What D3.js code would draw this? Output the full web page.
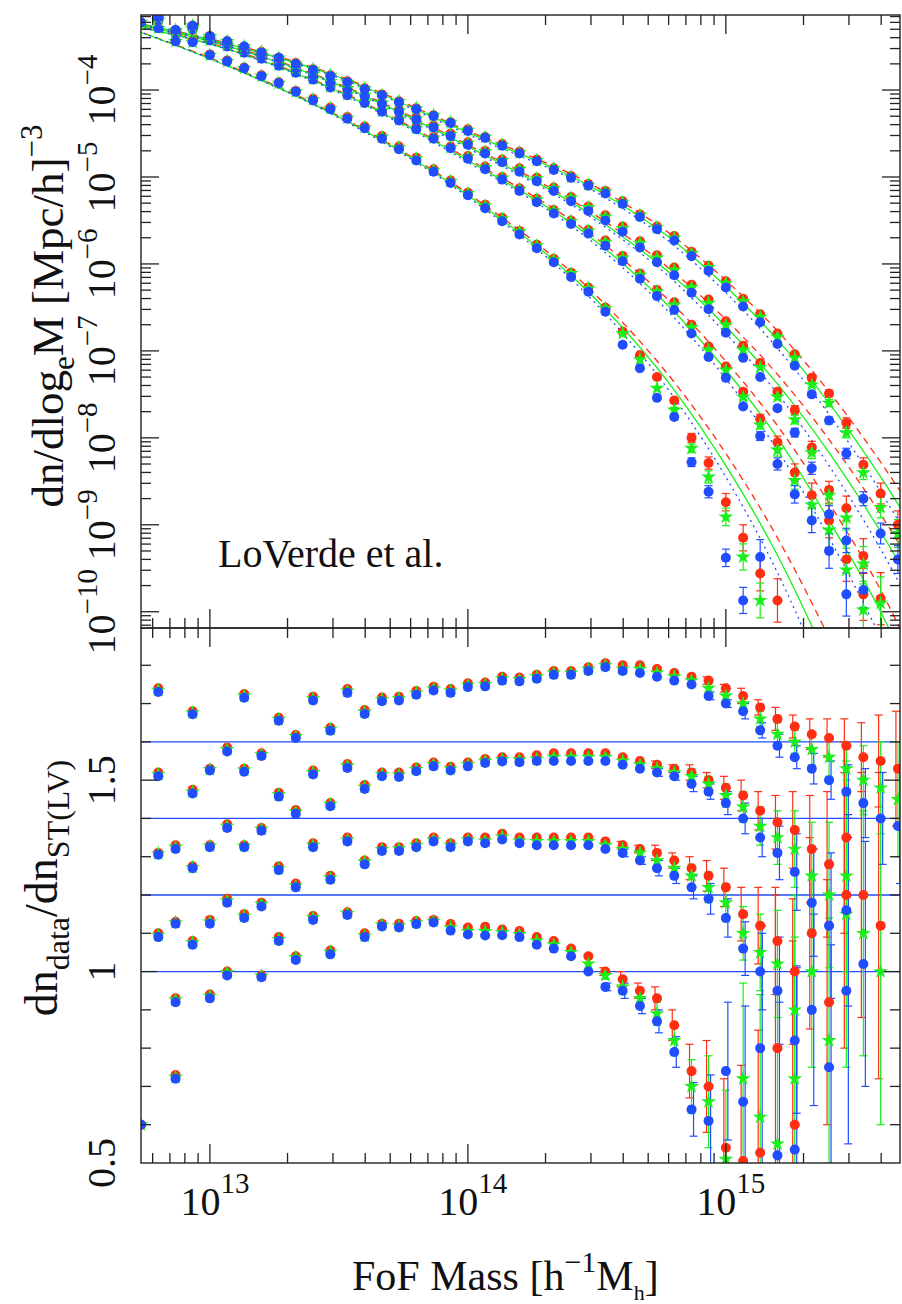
<!DOCTYPE html>
<html>
<head>
<meta charset="utf-8">
<script src="https://d3js.org/d3.v7.min.js"></script>
<style>
  body { margin: 0; background: #fff; }
  svg text { font-family: "Liberation Serif", "DejaVu Serif", serif; fill: #111; }
</style>
</head>
<body>
<div id="chart"></div>
<script>
// mass bins, log10(M)
var massLog = [12.733,12.800,12.867,12.933,13.000,13.067,13.133,13.200,13.267,13.333,
  13.400,13.467,13.533,13.600,13.667,13.733,13.800,13.867,13.933,14.000,
  14.067,14.133,14.200,14.267,14.333,14.400,14.467,14.533,14.600,14.667,
  14.733,14.800,14.867,14.933,15.000,15.067,15.133,15.200,15.267,15.333,
  15.400,15.467,15.533,15.600,15.667];

// top panel: log10 dn/dlnM, sets 1..4, one array per colour
var topGreen1 = [-3.22,-3.29,-3.44,-3.45,-3.60,-3.67,-3.75,-3.84,-3.92,-4.02,-4.11,-4.21,-4.32,-4.43,-4.54,-4.66,-4.79,-4.92,-5.05,-5.19,-5.33,-5.48,-5.63,-5.79,-5.95,-6.11,-6.28,-6.51,-6.80,-7.10,-7.43,-7.68,-8.12,-8.45,-8.91,-9.37,-9.87,null,null,null,null,null,null,null,null];
var topRed1   = [-3.22,-3.28,-3.43,-3.44,-3.59,-3.66,-3.74,-3.83,-3.91,-4.01,-4.10,-4.20,-4.31,-4.42,-4.53,-4.65,-4.78,-4.91,-5.04,-5.18,-5.32,-5.47,-5.62,-5.78,-5.94,-6.10,-6.27,-6.50,-6.78,-7.05,-7.30,-7.57,-8.00,-8.29,-8.74,-9.15,-9.56,-9.87,null,null,null,null,null,null,null];
var topBlue1  = [-3.22,-3.29,-3.44,-3.45,-3.60,-3.67,-3.75,-3.84,-3.92,-4.02,-4.12,-4.22,-4.33,-4.44,-4.56,-4.68,-4.81,-4.94,-5.07,-5.21,-5.36,-5.51,-5.66,-5.82,-5.98,-6.15,-6.32,-6.55,-6.93,-7.20,-7.54,-7.76,-8.28,-8.62,-9.38,-9.87,-9.37,null,null,null,null,null,null,null,null];

var topGreen2 = [null,-3.20,-3.34,-3.30,-3.43,-3.49,-3.56,-3.63,-3.71,-3.79,-3.87,-3.96,-4.05,-4.14,-4.24,-4.34,-4.44,-4.55,-4.66,-4.77,-4.89,-5.01,-5.14,-5.26,-5.39,-5.51,-5.62,-5.75,-5.93,-6.13,-6.32,-6.47,-6.73,-6.99,-7.22,-7.53,-7.85,-8.14,-8.49,-8.77,-9.06,-9.52,-9.98,null,null];
var topRed2   = [null,-3.20,-3.34,-3.30,-3.42,-3.49,-3.56,-3.63,-3.71,-3.79,-3.87,-3.95,-4.04,-4.13,-4.23,-4.33,-4.43,-4.54,-4.65,-4.76,-4.88,-5.00,-5.13,-5.25,-5.38,-5.50,-5.61,-5.73,-5.91,-6.11,-6.30,-6.44,-6.70,-6.95,-7.18,-7.47,-7.78,-8.05,-8.40,-8.66,-8.95,-9.40,-9.80,null,null];
var topBlue2  = [null,-3.20,-3.35,-3.30,-3.43,-3.50,-3.57,-3.64,-3.72,-3.80,-3.88,-3.97,-4.06,-4.15,-4.25,-4.35,-4.45,-4.56,-4.67,-4.79,-4.91,-5.03,-5.16,-5.29,-5.42,-5.54,-5.65,-5.79,-5.97,-6.17,-6.37,-6.53,-6.80,-7.07,-7.31,-7.64,-7.98,-8.30,-8.65,-8.95,-9.30,-9.80,null,null,null];

var topGreen3 = [null,-3.17,-3.32,-3.28,-3.40,-3.47,-3.53,-3.60,-3.67,-3.75,-3.82,-3.90,-3.98,-4.06,-4.15,-4.24,-4.33,-4.42,-4.51,-4.61,-4.71,-4.81,-4.91,-5.02,-5.13,-5.24,-5.35,-5.46,-5.59,-5.76,-5.93,-6.07,-6.27,-6.45,-6.70,-6.99,-7.19,-7.53,-7.79,-8.17,-8.66,-8.92,-9.45,-9.90,null];
var topRed3   = [null,-3.17,-3.32,-3.27,-3.40,-3.46,-3.53,-3.60,-3.67,-3.74,-3.82,-3.90,-3.98,-4.06,-4.14,-4.23,-4.32,-4.41,-4.50,-4.60,-4.70,-4.80,-4.90,-5.01,-5.12,-5.23,-5.34,-5.44,-5.57,-5.74,-5.90,-6.04,-6.24,-6.41,-6.66,-6.94,-7.14,-7.47,-7.68,-8.11,-8.60,-8.81,-9.36,-9.85,null];
var topBlue3  = [null,-3.17,-3.32,-3.28,-3.41,-3.47,-3.54,-3.61,-3.68,-3.75,-3.83,-3.91,-3.99,-4.07,-4.16,-4.25,-4.34,-4.43,-4.53,-4.63,-4.73,-4.83,-4.94,-5.05,-5.16,-5.28,-5.39,-5.50,-5.63,-5.81,-5.98,-6.13,-6.33,-6.52,-6.79,-7.08,-7.30,-7.66,-7.94,-8.35,-8.88,-9.18,-9.75,null,null];

var topGreen4 = [null,-3.16,-3.31,-3.26,-3.38,-3.44,-3.50,-3.56,-3.63,-3.70,-3.76,-3.83,-3.91,-3.98,-4.06,-4.13,-4.21,-4.29,-4.37,-4.46,-4.54,-4.63,-4.72,-4.81,-4.90,-5.00,-5.09,-5.17,-5.29,-5.44,-5.58,-5.70,-5.88,-6.04,-6.22,-6.43,-6.61,-6.84,-7.08,-7.39,-7.60,-7.94,-8.40,-8.80,-9.10];
var topRed4   = [null,-3.16,-3.31,-3.26,-3.38,-3.44,-3.50,-3.56,-3.63,-3.69,-3.76,-3.83,-3.90,-3.98,-4.05,-4.13,-4.21,-4.29,-4.37,-4.45,-4.54,-4.62,-4.71,-4.80,-4.90,-4.99,-5.08,-5.16,-5.28,-5.43,-5.57,-5.68,-5.86,-6.02,-6.20,-6.40,-6.58,-6.80,-7.04,-7.31,-7.49,-7.83,-8.31,-8.64,-9.00];
var topBlue4  = [null,-3.16,-3.31,-3.26,-3.38,-3.44,-3.50,-3.57,-3.63,-3.70,-3.77,-3.84,-3.91,-3.99,-4.06,-4.14,-4.22,-4.30,-4.38,-4.47,-4.55,-4.64,-4.73,-4.82,-4.92,-5.01,-5.10,-5.19,-5.31,-5.46,-5.60,-5.73,-5.91,-6.08,-6.27,-6.49,-6.67,-6.92,-7.17,-7.50,-7.80,-8.18,-8.70,-9.10,-9.40];

// error half-widths (dex) of the top-panel tail points, from bin errFrom on
var errFrom = 27;
var topErr1 = [0,0,0,0,0.03,0.05,0.07,0.10,0.15,0.20,0.25,0.30,0,0,0,0,0,0];
var topErr2 = [0,0,0,0,0,0,0,0,0.03,0.05,0.07,0.10,0.14,0.20,0.25,0.30,0,0];
var topErr3 = [0,0,0,0,0,0,0,0,0,0,0.03,0.05,0.07,0.10,0.14,0.20,0.30,0];
var topErr4 = [0,0,0,0,0,0,0,0,0,0,0,0,0.03,0.04,0.06,0.08,0.12,0.16];

// fitted ST(LV) curves in the top panel, log10 dn/dlnM
var fitMass   = [12.70, 13.00, 13.50, 14.00, 14.50, 14.80, 15.00, 15.20, 15.40, 15.60, 15.80];
var fitGreen1 = [-3.30, -3.64, -4.31, -5.21, -6.42, -7.45, -8.32, -9.35, -10.6, -12.0, -13.5];
var fitRed1   = [-3.30, -3.63, -4.30, -5.19, -6.37, -7.36, -8.18, -9.15, -10.3, -11.6, -13.0];
var fitBlue1  = [-3.30, -3.64, -4.32, -5.23, -6.47, -7.54, -8.45, -9.55, -10.9, -12.4, -14.0];
var fitGreen2 = [-3.26, -3.47, -4.02, -4.81, -5.75, -6.55, -7.22, -8.00, -8.95, -10.0, -11.3];
var fitRed2   = [-3.26, -3.46, -4.01, -4.79, -5.71, -6.48, -7.12, -7.86, -8.75, -9.75, -11.0];
var fitBlue2  = [-3.26, -3.47, -4.03, -4.83, -5.79, -6.62, -7.32, -8.14, -9.15, -10.3, -11.6];
var fitGreen3 = [-3.24, -3.44, -3.94, -4.65, -5.48, -6.15, -6.72, -7.38, -8.17, -9.08, -10.1];
var fitRed3   = [-3.24, -3.43, -3.93, -4.63, -5.45, -6.10, -6.64, -7.27, -8.02, -8.88, -9.85];
var fitBlue3  = [-3.24, -3.44, -3.95, -4.67, -5.51, -6.20, -6.80, -7.49, -8.32, -9.28, -10.4];
var fitGreen4 = [-3.22, -3.42, -3.85, -4.49, -5.15, -5.74, -6.26, -6.87, -7.60, -8.45, -9.40];
var fitRed4   = [-3.22, -3.41, -3.84, -4.47, -5.12, -5.69, -6.19, -6.77, -7.47, -8.28, -9.18];
var fitBlue4  = [-3.22, -3.42, -3.86, -4.51, -5.18, -5.79, -6.33, -6.97, -7.73, -8.62, -9.62];

// bottom panel: dn_data / dn_ST(LV), each set shifted by its offset
var ratioOffset = [0, 0.2, 0.4, 0.6];
var ratioGreen1 = [0.60,1.095,0.724,1.076,0.936,0.997,1.145,0.989,1.084,1.037,1.141,1.051,1.152,1.093,1.122,1.119,1.128,1.132,1.115,1.105,1.105,1.102,1.097,1.08,1.07,1.05,1.02,0.99,0.96,0.93,0.89,0.82,0.70,0.66,0.51,0.72,0.62,0.55,0.72,null,null,null,null,null,null];
var ratioRed1   = [0.60,1.10,0.73,1.08,0.94,1.00,1.15,0.99,1.09,1.04,1.145,1.055,1.155,1.10,1.125,1.125,1.132,1.135,1.124,1.115,1.117,1.11,1.106,1.09,1.08,1.06,1.04,1.00,0.98,0.95,0.93,0.86,0.74,0.70,0.54,0.505,0.527,0.80,0.60,null,null,null,null,null,null];
var ratioBlue1  = [0.60,1.09,0.72,1.07,0.93,0.99,1.14,0.985,1.08,1.03,1.135,1.045,1.148,1.09,1.118,1.115,1.124,1.128,1.107,1.097,1.094,1.095,1.09,1.07,1.06,1.04,1.00,0.96,0.95,0.91,0.87,0.79,0.64,0.61,0.74,0.66,0.80,0.52,0.535,null,null,null,null,null,null];

var ratioGreen2 = [null,1.108,0.726,1.072,0.93,0.985,1.128,0.976,1.069,1.024,1.13,1.045,1.144,1.087,1.119,1.121,1.13,1.144,1.13,1.144,1.141,1.152,1.141,1.14,1.14,1.14,1.14,1.13,1.12,1.11,1.09,1.07,1.05,1.02,0.98,0.90,0.85,0.82,0.70,0.80,0.62,0.95,null,null,null];
var ratioRed2   = [null,1.11,0.73,1.075,0.935,0.99,1.13,0.98,1.075,1.03,1.135,1.05,1.15,1.09,1.125,1.125,1.135,1.15,1.135,1.15,1.15,1.16,1.15,1.15,1.15,1.15,1.15,1.14,1.13,1.12,1.11,1.09,1.07,1.05,1.02,0.95,0.92,0.88,0.80,0.90,0.72,1.00,null,null,null];
var ratioBlue2  = [null,1.105,0.72,1.07,0.925,0.98,1.125,0.97,1.065,1.02,1.125,1.04,1.14,1.08,1.115,1.115,1.125,1.14,1.125,1.14,1.135,1.145,1.135,1.13,1.13,1.13,1.13,1.12,1.11,1.09,1.07,1.05,1.02,0.99,0.94,0.86,0.80,0.75,0.62,0.70,0.55,0.75,null,null,null];

var ratioGreen3 = [null,1.115,0.728,1.069,0.928,0.98,1.127,0.972,1.062,1.017,1.12,1.037,1.137,1.082,1.115,1.114,1.128,1.141,1.13,1.141,1.15,1.154,1.153,1.155,1.16,1.16,1.16,1.16,1.15,1.14,1.13,1.12,1.11,1.09,1.06,1.03,0.98,0.95,0.92,0.85,0.80,0.85,0.70,0.60,null];
var ratioRed3   = [null,1.12,0.73,1.075,0.93,0.985,1.13,0.975,1.067,1.022,1.125,1.04,1.142,1.087,1.12,1.12,1.133,1.146,1.135,1.146,1.155,1.16,1.16,1.165,1.17,1.17,1.17,1.17,1.16,1.15,1.14,1.13,1.12,1.10,1.08,1.06,1.02,0.99,0.97,0.92,0.88,0.95,0.80,0.72,null];
var ratioBlue3  = [null,1.11,0.725,1.065,0.925,0.975,1.122,0.968,1.057,1.012,1.115,1.032,1.132,1.077,1.11,1.108,1.123,1.136,1.125,1.136,1.145,1.149,1.147,1.15,1.15,1.15,1.15,1.15,1.14,1.13,1.12,1.11,1.09,1.07,1.04,1.00,0.95,0.91,0.86,0.78,0.72,0.76,0.62,null,null];

var ratioGreen4 = [null,1.135,0.725,1.076,0.928,0.98,1.12,0.967,1.059,1.014,1.113,1.033,1.133,1.078,1.111,1.113,1.128,1.139,1.133,1.148,1.15,1.165,1.163,1.17,1.18,1.18,1.19,1.20,1.19,1.19,1.18,1.17,1.16,1.14,1.12,1.10,1.06,1.02,1.00,0.98,0.96,0.93,0.90,0.88,0.85];
var ratioRed4   = [null,1.14,0.73,1.08,0.93,0.985,1.125,0.97,1.063,1.018,1.118,1.037,1.138,1.083,1.116,1.118,1.133,1.144,1.138,1.153,1.155,1.17,1.168,1.175,1.185,1.185,1.195,1.205,1.20,1.20,1.19,1.18,1.17,1.16,1.14,1.12,1.09,1.06,1.04,1.02,1.01,0.99,0.96,0.95,0.93];
var ratioBlue4  = [null,1.13,0.72,1.072,0.925,0.975,1.115,0.963,1.055,1.01,1.108,1.029,1.128,1.073,1.106,1.108,1.123,1.134,1.128,1.143,1.145,1.16,1.158,1.165,1.175,1.175,1.185,1.195,1.185,1.18,1.17,1.16,1.15,1.12,1.10,1.08,1.03,0.99,0.96,0.93,0.90,0.87,0.84,0.80,0.78];

// error half-widths of the ratio points, from bin errFrom on
var ratioErr1 = [0.01,0.02,0.02,0.03,0.04,0.07,0.12,0.18,0.25,0.32,0.40,0.48,0,0,0,0,0,0];
var ratioErr2 = [0,0.01,0.01,0.02,0.02,0.03,0.04,0.05,0.07,0.10,0.14,0.19,0.25,0.32,0.40,0,0,0];
var ratioErr3 = [0,0,0,0.01,0.01,0.02,0.02,0.03,0.04,0.05,0.07,0.10,0.14,0.19,0.25,0.32,0.40,0];
var ratioErr4 = [0,0,0,0,0,0,0.01,0.01,0.02,0.02,0.03,0.03,0.04,0.05,0.07,0.09,0.12,0.15];

var colRed = "#ff2d12", colGreen = "#19f019", colBlue = "#1f4dff";

var W = 902, H = 1304;
var L = 141, R = 900, T = 15, MID = 628, B = 1163;

var svg = d3.select("#chart").append("svg")
  .attr("width", W).attr("height", H);

var x = d3.scaleLog().domain([Math.pow(10, 12.733), Math.pow(10, 15.675)]).range([L, R]);
var yTop = d3.scaleLog().domain([Math.pow(10, -10.187), Math.pow(10, -3.137)]).range([MID, T]);
var yBot = d3.scaleLinear().domain([0.5, 1.9]).range([B, 627]);

var defs = svg.append("defs");
defs.append("clipPath").attr("id", "clipTop").append("rect")
  .attr("x", L).attr("y", T).attr("width", R - L).attr("height", MID - T);
defs.append("clipPath").attr("id", "clipBot").append("rect")
  .attr("x", L).attr("y", MID).attr("width", R - L).attr("height", B - MID);

var gTop = svg.append("g").attr("clip-path", "url(#clipTop)");
var gBot = svg.append("g").attr("clip-path", "url(#clipBot)");

var starPath = d3.symbol().type(d3.symbolStar).size(68)();
var cols = [colRed, colGreen, colBlue];

function errorBar(g, col, cx, y1, y2) {
  var eb = g.append("g").attr("stroke", col).attr("stroke-width", 1.2);
  eb.append("line").attr("x1", cx).attr("x2", cx).attr("y1", y1).attr("y2", y2);
  eb.append("line").attr("x1", cx - 4).attr("x2", cx + 4).attr("y1", y1).attr("y2", y1);
  eb.append("line").attr("x1", cx - 4).attr("x2", cx + 4).attr("y1", y2).attr("y2", y2);
}

function drawPoints(g, vals, yf, kind) {
  var pts = [];
  vals.forEach(function (v, k) { if (v !== null) pts.push({ m: massLog[k], v: v }); });
  if (kind === "star") {
    g.selectAll(null).data(pts).enter().append("path")
      .attr("d", starPath)
      .attr("transform", function (d) { return "translate(" + x(Math.pow(10, d.m)) + "," + yf(d.v) + ")"; })
      .attr("fill", colGreen);
  } else {
    g.selectAll(null).data(pts).enter().append("circle")
      .attr("cx", function (d) { return x(Math.pow(10, d.m)); })
      .attr("cy", function (d) { return yf(d.v); })
      .attr("r", 5)
      .attr("fill", kind);
  }
}

// ---------- top panel ----------
var topSets = [
  { fits: [fitRed1, fitGreen1, fitBlue1], pts: [topRed1, topGreen1, topBlue1], err: topErr1 },
  { fits: [fitRed2, fitGreen2, fitBlue2], pts: [topRed2, topGreen2, topBlue2], err: topErr2 },
  { fits: [fitRed3, fitGreen3, fitBlue3], pts: [topRed3, topGreen3, topBlue3], err: topErr3 },
  { fits: [fitRed4, fitGreen4, fitBlue4], pts: [topRed4, topGreen4, topBlue4], err: topErr4 }
];
var lineDash = ["7,5", null, "2,4"];

var fitLine = d3.line()
  .x(function (d) { return x(Math.pow(10, d[0])); })
  .y(function (d) { return yTop(Math.pow(10, d[1])); })
  .curve(d3.curveMonotoneX);

topSets.forEach(function (s) {
  s.fits.forEach(function (f, i) {
    gTop.append("path")
      .attr("d", fitLine(fitMass.map(function (m, j) { return [m, f[j]]; })))
      .attr("fill", "none")
      .attr("stroke", cols[i])
      .attr("stroke-width", 1.3)
      .attr("stroke-dasharray", lineDash[i]);
  });
});

var yTopLog = function (v) { return yTop(Math.pow(10, v)); };

topSets.forEach(function (s) {
  s.pts.forEach(function (vals, ci) {
    s.err.forEach(function (e, j) {
      var k = errFrom + j, v = vals[k];
      if (!e || v === null) return;
      var cx = x(Math.pow(10, massLog[k]));
      errorBar(gTop, cols[ci], cx, yTopLog(v - e), yTopLog(v + e));
    });
  });
});

topSets.forEach(function (s) {
  drawPoints(gTop, s.pts[0], yTopLog, colRed);
  drawPoints(gTop, s.pts[1], yTopLog, "star");
  drawPoints(gTop, s.pts[2], yTopLog, colBlue);
});

// ---------- bottom panel ----------
ratioOffset.forEach(function (o) {
  gBot.append("line")
    .attr("x1", L).attr("x2", R)
    .attr("y1", yBot(1 + o)).attr("y2", yBot(1 + o))
    .attr("stroke", colBlue).attr("stroke-width", 1.3);
});

var botSets = [
  { pts: [ratioRed1, ratioGreen1, ratioBlue1], err: ratioErr1 },
  { pts: [ratioRed2, ratioGreen2, ratioBlue2], err: ratioErr2 },
  { pts: [ratioRed3, ratioGreen3, ratioBlue3], err: ratioErr3 },
  { pts: [ratioRed4, ratioGreen4, ratioBlue4], err: ratioErr4 }
];

botSets.forEach(function (s, si) {
  var off = ratioOffset[si];
  s.pts.forEach(function (vals, ci) {
    s.err.forEach(function (e, j) {
      var k = errFrom + j, v = vals[k];
      if (!e || v === null) return;
      var cx = x(Math.pow(10, massLog[k])) + (ci - 1) * 2;
      errorBar(gBot, cols[ci], cx, yBot(v + off - e), yBot(v + off + e));
    });
  });
});

botSets.forEach(function (s, si) {
  var off = ratioOffset[si];
  var yf = function (v) { return yBot(v + off); };
  drawPoints(gBot, s.pts[0], yf, colRed);
  drawPoints(gBot, s.pts[1], yf, "star");
  drawPoints(gBot, s.pts[2], yf, colBlue);
});

// ---------- frames and ticks ----------
var axisCol = "#222";
[[T, MID], [MID, B]].forEach(function (p) {
  svg.append("rect").attr("x", L).attr("y", p[0]).attr("width", R - L).attr("height", p[1] - p[0])
    .attr("fill", "none").attr("stroke", axisCol).attr("stroke-width", 1.4);
});

var tk = svg.append("g").attr("stroke", axisCol).attr("stroke-width", 1.3);
var xTicks = x.ticks().filter(function (t) { var p = x(t); return p > L + 1 && p < R - 1; });
xTicks.forEach(function (t) {
  var px = x(t);
  var major = Math.abs(Math.log10(t) - Math.round(Math.log10(t))) < 1e-6;
  var len = major ? 19 : 10;
  [[T, 1], [MID, -1], [MID, 1], [B, -1]].forEach(function (a) {
    tk.append("line").attr("x1", px).attr("x2", px).attr("y1", a[0]).attr("y2", a[0] + a[1] * len);
  });
});

var yTicks = yTop.ticks().filter(function (t) { var p = yTop(t); return p > T + 1 && p < MID - 1; });
yTicks.forEach(function (t) {
  var py = yTop(t);
  var major = Math.abs(Math.log10(t) - Math.round(Math.log10(t))) < 1e-6;
  var len = major ? 18 : 10;
  tk.append("line").attr("x1", L).attr("x2", L + len).attr("y1", py).attr("y2", py);
  tk.append("line").attr("x1", R).attr("x2", R - len).attr("y1", py).attr("y2", py);
});

d3.range(0.6, 1.9, 0.1).forEach(function (t) {
  var py = yBot(t);
  var major = Math.abs(t * 2 - Math.round(t * 2)) < 1e-6;
  var len = major ? 16 : 10;
  tk.append("line").attr("x1", L).attr("x2", L + len).attr("y1", py).attr("y2", py);
  tk.append("line").attr("x1", R).attr("x2", R - len).attr("y1", py).attr("y2", py);
});

// ---------- labels ----------
var xLabels = [13, 14, 15];
xLabels.forEach(function (e) {
  var t = svg.append("text").attr("x", x(Math.pow(10, e)) + 5).attr("y", 1215)
    .attr("text-anchor", "middle").style("font-size", "40px");
  t.append("tspan").text("10");
  t.append("tspan").attr("dy", -22).style("font-size", "29px").text(e);
});

var yTopLabels = [-4, -5, -6, -7, -8, -9, -10];
yTopLabels.forEach(function (e) {
  var py = yTop(Math.pow(10, e));
  var t = svg.append("text").attr("transform", "translate(115," + py + ") rotate(-90)")
    .attr("text-anchor", "middle").style("font-size", "40px");
  t.append("tspan").text("10");
  t.append("tspan").attr("dy", -18).style("font-size", "29px").text("\u2212" + (-e));
});

var yBotLabels = ["0.5", "1", "1.5"];
yBotLabels.forEach(function (s) {
  var py = yBot(+s);
  svg.append("text").attr("transform", "translate(115," + py + ") rotate(-90)")
    .attr("text-anchor", "middle").style("font-size", "40px").text(s);
});

// axis titles
var xt = svg.append("text").attr("x", 352).attr("y", 1290).style("font-size", "42px");
xt.append("tspan").text("FoF Mass [h");
xt.append("tspan").attr("dy", -18).style("font-size", "30px").text("\u22121");
xt.append("tspan").attr("dy", 18).text("M");
xt.append("tspan").attr("dy", 10).style("font-size", "22px").text("h");
xt.append("tspan").attr("dy", -10).text("]");

var yt1 = svg.append("text").attr("transform", "translate(63,316) rotate(-90)")
  .attr("text-anchor", "middle").style("font-size", "45px");
yt1.append("tspan").text("dn/dlog");
yt1.append("tspan").attr("dy", 11).style("font-size", "31px").text("e");
yt1.append("tspan").attr("dy", -11).text("M [Mpc/h]");
yt1.append("tspan").attr("dy", -21).style("font-size", "31px").text("\u22123");

var yt2 = svg.append("text").attr("transform", "translate(57,888) rotate(-90)")
  .attr("text-anchor", "middle").style("font-size", "46px");
yt2.append("tspan").text("dn");
yt2.append("tspan").attr("dy", 12).style("font-size", "32px").text("data");
yt2.append("tspan").attr("dy", -12).text("/dn");
yt2.append("tspan").attr("dy", 12).style("font-size", "32px").text("ST(LV)");

svg.append("text").attr("x", 218).attr("y", 567).style("font-size", "40px").text("LoVerde et al.");
</script>
</body>
</html>
